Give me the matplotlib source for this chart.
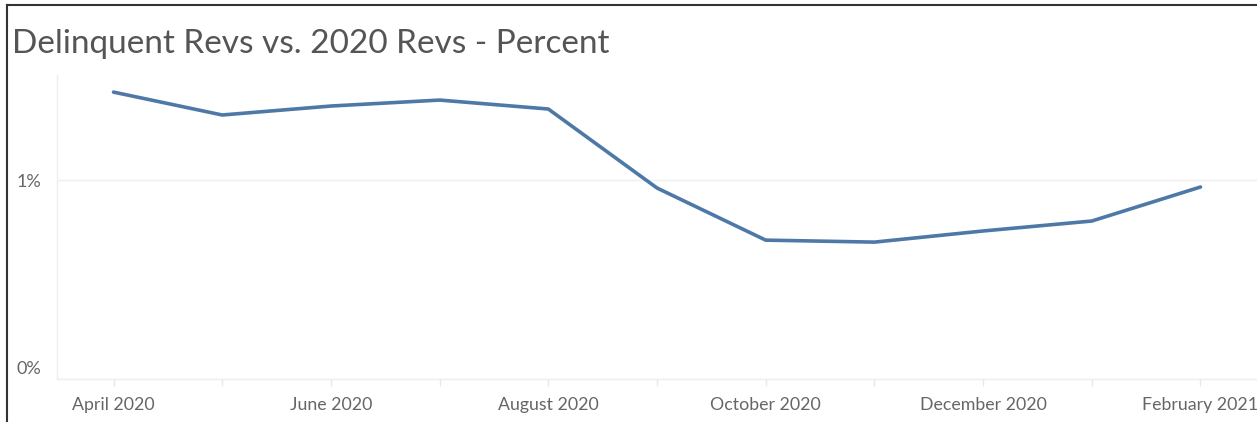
import matplotlib
matplotlib.use("Agg")
import matplotlib.pyplot as plt
import matplotlib.transforms as mtransforms
from matplotlib.ticker import FixedLocator, NullFormatter

# ------------------ data ------------------
months = ["April 2020", "May 2020", "June 2020", "July 2020", "August 2020",
          "September 2020", "October 2020", "November 2020", "December 2020",
          "January 2021", "February 2021"]
pct = [1.442, 1.327, 1.372, 1.402, 1.357, 0.960, 0.698, 0.688, 0.744, 0.794, 0.965]
y_ticks = [0, 1]
y_labels = ["0%", "1%"]
# ------------------------------------------

plt.rcParams['font.family'] = ['Lato', 'DejaVu Sans']

fig = plt.figure(figsize=(12.57, 4.22), dpi=100)
W, H = 1257, 422

ax = fig.add_axes([57 / W, 1 - 379 / H, (1257 - 57) / W, (379 - 75) / H])
x = list(range(len(months)))
ax.plot(x, pct, color="#4e79a7", linewidth=2.6, solid_joinstyle="round",
        solid_capstyle="round", zorder=3)

ax.set_xlim(-0.52, 10.52)
ax.set_ylim(0, 1.528)

major = x[::2]
ax.xaxis.set_major_locator(FixedLocator(major))
ax.set_xticklabels(months[::2])
ax.xaxis.set_minor_locator(FixedLocator(x[1::2]))
ax.xaxis.set_minor_formatter(NullFormatter())
ax.tick_params(axis="x", which="both", length=5, width=1, color="#e8e8e8",
               labelsize=12.8, labelcolor="#666666", pad=8)

ax.set_yticks(y_ticks)
ax.set_yticklabels(y_labels)
ax.tick_params(axis="y", length=0, labelsize=13, labelcolor="#666666", pad=11)
ax.grid(axis="y", color="#efefef", linewidth=1)

# the 0% label sits a little above the baseline
lab0 = ax.get_yticklabels()[0]
lab0.set_transform(lab0.get_transform() +
                   mtransforms.ScaledTranslation(0, 12 / 100, fig.dpi_scale_trans))

for s in ["top", "right"]:
    ax.spines[s].set_visible(False)
for s in ["left", "bottom"]:
    ax.spines[s].set_color("#efefef")
    ax.spines[s].set_linewidth(1)

fig.text(12 / W, 1 - 53 / H, "Delinquent Revs vs. 2020 Revs - Percent",
         fontsize=24, color="#555555", ha="left", va="baseline")

# outer frame (left and top)
fig.add_artist(plt.Line2D([7 / W, 7 / W], [0, 1 - 5 / H], color="#333333",
                          linewidth=1.5, transform=fig.transFigure))
fig.add_artist(plt.Line2D([7 / W, 1], [1 - 5 / H, 1 - 5 / H], color="#333333",
                          linewidth=1.5, transform=fig.transFigure))

fig.savefig("out.png", dpi=100)
